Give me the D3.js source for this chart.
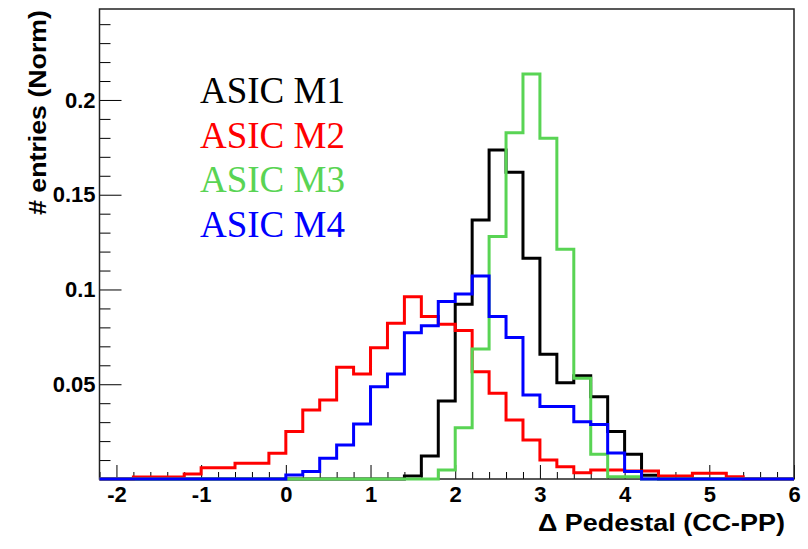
<!DOCTYPE html>
<html>
<head>
<meta charset="utf-8">
<script src="https://cdn.jsdelivr.net/npm/d3@7"></script>
<style>
  body { margin: 0; background: #fff; }
  svg text { font-family: Arial, "Liberation Sans", Helvetica, sans-serif; }
</style>
</head>
<body>
<svg id="chart" width="808" height="549"></svg>
<script>
// histogram binning: 41 bins of 0.2 starting at -2.2
const binLow = -2.2, binWidth = 0.2;

const seriesNames = ["ASIC M1", "ASIC M2", "ASIC M3", "ASIC M4"];

const asicM1 = [0, 0, 0, 0, 0, 0, 0, 0, 0, 0, 0, 0, 0, 0, 0, 0, 0, 0,
    0.0016, 0.0121, 0.0412, 0.0922, 0.1367, 0.1736, 0.1618, 0.1165, 0.0658,
    0.0508, 0.0545, 0.0434, 0.025, 0.013, 0.002,
    0, 0, 0, 0, 0, 0, 0, 0];
const asicM2 = [0, 0, 0.001, 0.001, 0.001, 0.0026, 0.006, 0.006, 0.0083, 0.0083,
    0.0136, 0.025, 0.0364, 0.0417, 0.059, 0.0554, 0.0693, 0.0822, 0.0962, 0.0857,
    0.0816, 0.0783, 0.0566, 0.0452, 0.0311, 0.0206, 0.010, 0.0065, 0.0033, 0.0047,
    0.0047, 0.0042, 0.0042, 0.0016, 0.0016, 0.003, 0.003, 0.0012, 0, 0, 0];
const asicM3 = [0, 0, 0, 0, 0, 0, 0, 0, 0, 0, 0, 0, 0, 0, 0, 0, 0, 0, 0, 0,
    0.0047, 0.0271, 0.0686, 0.1279, 0.1827, 0.2137, 0.1798, 0.1212, 0.0531,
    0.013, 0.0012, 0.0012,
    0, 0, 0, 0, 0, 0, 0, 0, 0];
const asicM4 = [0, 0, 0, 0, 0, 0, 0, 0, 0, 0, 0,
    0.0021, 0.0039, 0.011, 0.018, 0.029, 0.0487, 0.0554, 0.0772, 0.0809, 0.0936,
    0.0976, 0.1071, 0.0857, 0.0746, 0.0443, 0.0382, 0.0382, 0.0302, 0.0287,
    0.0137, 0.0039,
    0, 0, 0, 0, 0, 0, 0, 0, 0];

const xTicks = [-2, -1, 0, 1, 2, 3, 4, 5, 6];
const xTickLabels = ["-2", "-1", "0", "1", "2", "3", "4", "5", "6"];
const yTicks = [0.05, 0.1, 0.15, 0.2];
const yTickLabels = ["0.05", "0.1", "0.15", "0.2"];

const colors = ["#000000", "#ff0000", "#59d454", "#0000ff"];

const svg = d3.select("#chart");
const frame = {left: 99.5, right: 794, top: 9, bottom: 479};

const xScale = d3.scaleLinear().domain([-2.2, 6]).range([frame.left, frame.right]);
const yScale = d3.scaleLinear().domain([0, 0.248]).range([frame.bottom, frame.top]);

function drawAxes() {
    // minor ticks every 0.2 on x, every 0.01 on y
    const xMinor = d3.range(-22, 61, 2).map(d => d / 10).filter(d => !xTicks.includes(d));
    const yMinor = d3.range(1, 25).map(d => d / 100).filter(d => !yTicks.some(t => Math.abs(t - d) < 1e-9));

    svg.append("g")
        .attr("transform", "translate(0," + frame.bottom + ")")
        .call(d3.axisBottom(xScale).tickValues(xMinor).tickSize(-7).tickFormat(""))
        .call(g => g.select(".domain").remove());

    svg.append("g")
        .attr("class", "x axis")
        .attr("transform", "translate(0," + frame.bottom + ")")
        .call(d3.axisBottom(xScale).tickValues(xTicks).tickSize(-14).tickPadding(7)
            .tickFormat((d, i) => xTickLabels[i]))
        .call(g => g.select(".domain").remove());

    svg.append("g")
        .attr("transform", "translate(" + frame.left + ",0)")
        .call(d3.axisLeft(yScale).tickValues(yMinor).tickSize(-11).tickFormat(""))
        .call(g => g.select(".domain").remove());

    svg.append("g")
        .attr("class", "y axis")
        .attr("transform", "translate(" + frame.left + ",0)")
        .call(d3.axisLeft(yScale).tickValues(yTicks).tickSize(-22).tickPadding(4)
            .tickFormat((d, i) => yTickLabels[i]))
        .call(g => g.select(".domain").remove());

    svg.selectAll(".axis text")
        .attr("fill", "#000")
        .style("font-size", "22px")
        .style("font-weight", "bold");
    svg.selectAll(".tick line").attr("stroke", "#000");

    svg.append("rect")
        .attr("x", frame.left).attr("y", frame.top)
        .attr("width", frame.right - frame.left)
        .attr("height", frame.bottom - frame.top)
        .attr("fill", "none")
        .attr("stroke", "#222")
        .attr("stroke-width", 1.5);

    svg.append("text")
        .attr("x", 785).attr("y", 531)
        .attr("text-anchor", "end")
        .attr("textLength", 247)
        .attr("lengthAdjust", "spacingAndGlyphs")
        .style("font-size", "23px").style("font-weight", "bold")
        .text("\u0394 Pedestal (CC-PP)");

    svg.append("text")
        .attr("transform", "translate(46,10) rotate(-90)")
        .attr("text-anchor", "end")
        .attr("textLength", 205)
        .attr("lengthAdjust", "spacingAndGlyphs")
        .style("font-size", "23px").style("font-weight", "bold")
        .text("# entries (Norm)");
}

function drawHistos() {
    const line = d3.line()
        .curve(d3.curveStepAfter)
        .x(d => xScale(d[0]))
        .y(d => yScale(d[1]));

    [asicM1, asicM2, asicM3, asicM4].forEach(function (values, k) {
        const pts = values.map((v, i) => [binLow + i * binWidth, v]);
        pts.push([binLow + values.length * binWidth, values[values.length - 1]]);
        svg.append("path")
            .attr("d", line(pts))
            .attr("fill", "none")
            .attr("stroke", colors[k])
            .attr("stroke-width", 3);
    });
}

function drawLegend() {
    svg.selectAll(".legend")
        .data(seriesNames)
        .enter().append("text")
        .attr("class", "legend")
        .attr("x", 200)
        .attr("y", (d, i) => 103 + i * 44.5)
        .attr("fill", (d, i) => colors[i])
        .style("font-family", "'Liberation Serif', 'Times New Roman', serif")
        .style("font-size", "37px")
        .text(d => d);
}

drawAxes();
drawHistos();
drawLegend();
</script>
</body>
</html>
